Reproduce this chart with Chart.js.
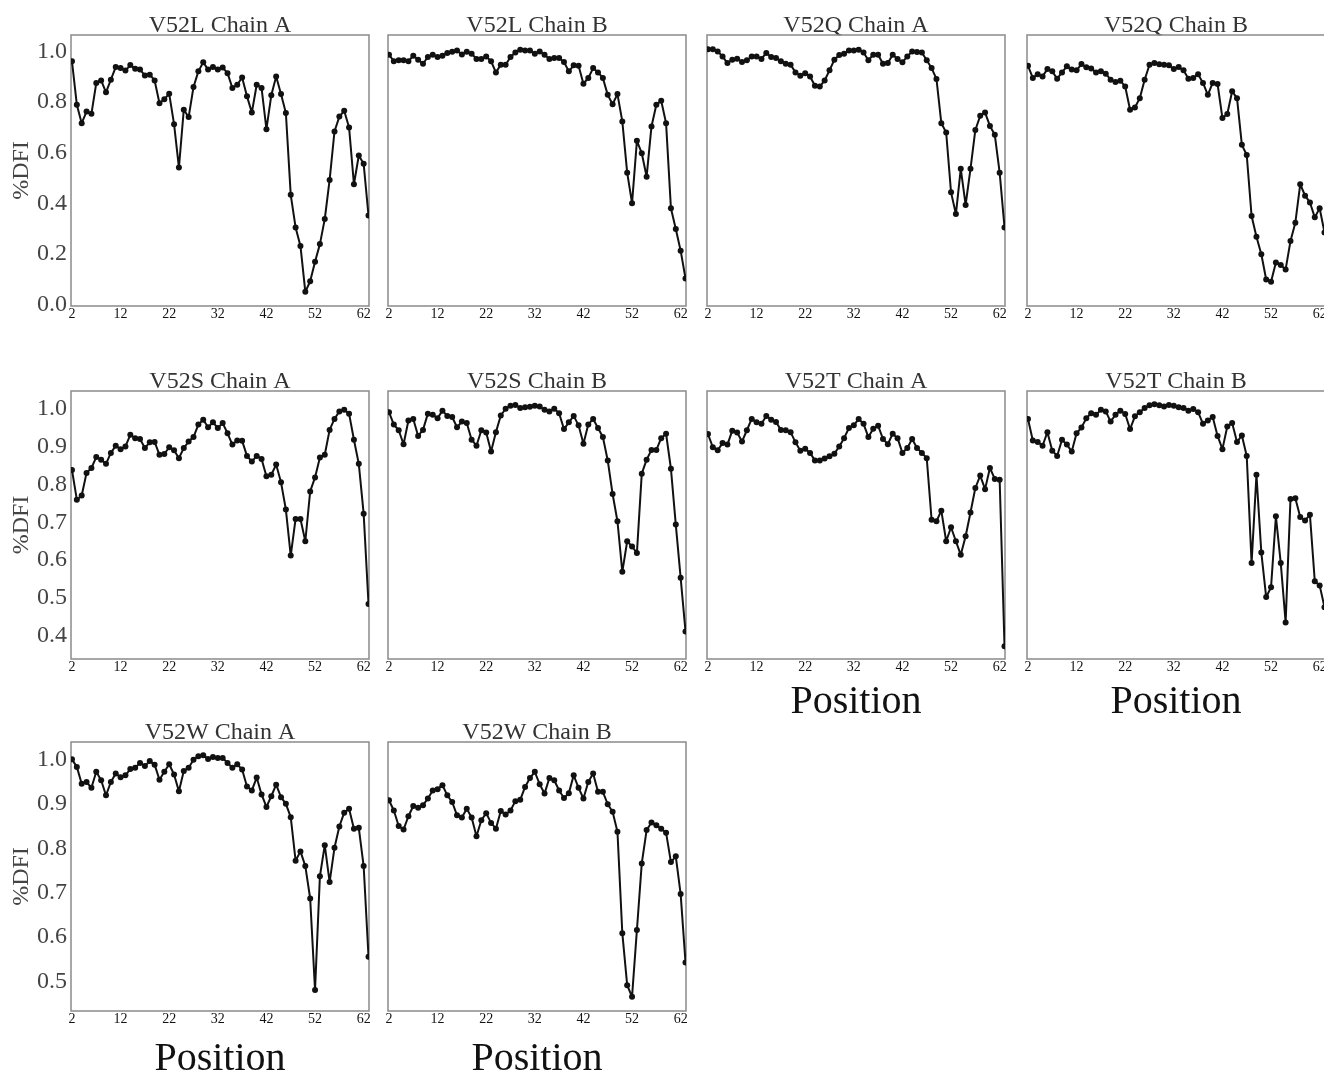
<!DOCTYPE html>
<html>
<head>
<meta charset="utf-8">
<script src="https://cdn.jsdelivr.net/npm/chart.js@4.4.1/dist/chart.umd.min.js"></script>
<style>
  html, body { margin: 0; padding: 0; background: #fff; overflow: hidden; }
  body { width: 1324px; height: 1076px; position: relative; }
  canvas { position: absolute; }
</style>
</head>
<body>
<script>
const positions = [2, 3, 4, 5, 6, 7, 8, 9, 10, 11, 12, 13, 14, 15, 16, 17, 18, 19, 20, 21, 22,
  23, 24, 25, 26, 27, 28, 29, 30, 31, 32, 33, 34, 35, 36, 37, 38, 39, 40, 41, 42,
  43, 44, 45, 46, 47, 48, 49, 50, 51, 52, 53, 54, 55, 56, 57, 58, 59, 60, 61, 62, 63];
const xTicks = [2, 12, 22, 32, 42, 52, 62];
const yTicksTop = [0, 0.2, 0.4, 0.6, 0.8, 1.0];
const yTicksMid = [0.4, 0.5, 0.6, 0.7, 0.8, 0.9, 1.0];
const yTicksBottom = [0.5, 0.6, 0.7, 0.8, 0.9, 1.0];

const v52lA = [0.962, 0.790, 0.717, 0.763, 0.754, 0.876, 0.886, 0.839, 0.889, 0.939, 0.935, 0.925, 0.947, 0.932,
  0.929, 0.906, 0.909, 0.886, 0.796, 0.812, 0.833, 0.713, 0.541, 0.770, 0.741, 0.860, 0.922, 0.958, 0.929, 0.939,
  0.929, 0.937, 0.915, 0.856, 0.869, 0.898, 0.823, 0.759, 0.869, 0.856, 0.693, 0.827, 0.902, 0.832, 0.757, 0.433,
  0.304, 0.231, 0.049, 0.091, 0.168, 0.238, 0.337, 0.492, 0.684, 0.743, 0.766, 0.700, 0.475, 0.589, 0.556, 0.351];
const v52lB = [0.988, 0.962, 0.966, 0.966, 0.962, 0.984, 0.968, 0.952, 0.979, 0.988, 0.979, 0.984, 0.995, 1.000,
  1.005, 0.989, 1.000, 0.992, 0.971, 0.971, 0.981, 0.962, 0.918, 0.948, 0.948, 0.979, 0.997, 1.008, 1.005, 1.005,
  0.992, 1.001, 0.988, 0.971, 0.975, 0.975, 0.959, 0.922, 0.946, 0.944, 0.873, 0.896, 0.935, 0.918, 0.896, 0.829,
  0.792, 0.832, 0.724, 0.521, 0.400, 0.647, 0.598, 0.505, 0.704, 0.790, 0.806, 0.717, 0.380, 0.298, 0.212, 0.102];
const v52qA = [1.010, 1.010, 1.001, 0.981, 0.955, 0.968, 0.972, 0.959, 0.966, 0.981, 0.981, 0.971, 0.995, 0.979,
  0.975, 0.962, 0.952, 0.948, 0.918, 0.905, 0.915, 0.902, 0.865, 0.862, 0.886, 0.926, 0.968, 0.987, 0.992, 1.005,
  1.005, 1.008, 0.997, 0.966, 0.988, 0.988, 0.952, 0.955, 0.988, 0.971, 0.958, 0.981, 1.001, 0.999, 0.997, 0.966,
  0.935, 0.892, 0.717, 0.680, 0.443, 0.357, 0.536, 0.393, 0.536, 0.690, 0.746, 0.759, 0.706, 0.671, 0.521, 0.304];
const v52qB = [0.944, 0.896, 0.911, 0.902, 0.931, 0.922, 0.893, 0.918, 0.942, 0.929, 0.926, 0.951, 0.938, 0.933,
  0.918, 0.922, 0.913, 0.889, 0.880, 0.885, 0.862, 0.770, 0.779, 0.816, 0.889, 0.948, 0.955, 0.950, 0.948, 0.946,
  0.931, 0.939, 0.926, 0.893, 0.896, 0.911, 0.876, 0.829, 0.876, 0.872, 0.737, 0.753, 0.843, 0.816, 0.631, 0.591,
  0.349, 0.267, 0.198, 0.098, 0.089, 0.165, 0.155, 0.138, 0.250, 0.323, 0.475, 0.430, 0.403, 0.344, 0.380, 0.284];
const v52sA = [0.839, 0.760, 0.771, 0.831, 0.844, 0.873, 0.866, 0.855, 0.884, 0.903, 0.894, 0.901, 0.932, 0.923,
  0.921, 0.897, 0.912, 0.913, 0.879, 0.881, 0.899, 0.891, 0.870, 0.897, 0.914, 0.926, 0.959, 0.972, 0.952, 0.965,
  0.950, 0.963, 0.936, 0.906, 0.917, 0.916, 0.876, 0.861, 0.876, 0.868, 0.822, 0.826, 0.853, 0.806, 0.734, 0.612,
  0.709, 0.709, 0.650, 0.782, 0.819, 0.872, 0.879, 0.945, 0.974, 0.994, 0.998, 0.988, 0.919, 0.855, 0.723, 0.484];
const v52sB = [0.992, 0.959, 0.944, 0.907, 0.970, 0.974, 0.929, 0.945, 0.988, 0.985, 0.976, 0.996, 0.982, 0.979,
  0.952, 0.967, 0.963, 0.919, 0.903, 0.944, 0.938, 0.888, 0.939, 0.983, 1.001, 1.009, 1.011, 1.003, 1.005, 1.006,
  1.009, 1.007, 0.998, 0.994, 1.001, 0.989, 0.947, 0.965, 0.982, 0.957, 0.908, 0.959, 0.974, 0.950, 0.926, 0.864,
  0.775, 0.703, 0.569, 0.650, 0.636, 0.619, 0.829, 0.866, 0.892, 0.892, 0.923, 0.935, 0.842, 0.694, 0.553, 0.411];
const v52tA = [0.934, 0.899, 0.891, 0.910, 0.906, 0.943, 0.938, 0.914, 0.944, 0.974, 0.965, 0.961, 0.982, 0.972,
  0.966, 0.945, 0.944, 0.939, 0.912, 0.890, 0.895, 0.884, 0.864, 0.864, 0.869, 0.875, 0.882, 0.901, 0.923, 0.950,
  0.957, 0.974, 0.961, 0.926, 0.948, 0.956, 0.921, 0.907, 0.935, 0.923, 0.884, 0.897, 0.921, 0.897, 0.884, 0.870,
  0.707, 0.703, 0.731, 0.650, 0.687, 0.650, 0.614, 0.663, 0.726, 0.791, 0.824, 0.788, 0.844, 0.815, 0.813, 0.372];
const v52tB = [0.974, 0.917, 0.913, 0.903, 0.939, 0.890, 0.876, 0.919, 0.906, 0.888, 0.936, 0.951, 0.976, 0.989,
  0.985, 0.998, 0.994, 0.967, 0.985, 0.996, 0.987, 0.947, 0.981, 0.992, 1.003, 1.010, 1.013, 1.010, 1.007, 1.011,
  1.009, 1.005, 1.003, 0.996, 1.000, 0.992, 0.961, 0.970, 0.979, 0.929, 0.894, 0.954, 0.963, 0.913, 0.930, 0.876,
  0.592, 0.826, 0.620, 0.502, 0.528, 0.716, 0.592, 0.435, 0.762, 0.764, 0.714, 0.705, 0.720, 0.544, 0.533, 0.475];
const v52wA = [1.000, 0.983, 0.945, 0.949, 0.936, 0.972, 0.953, 0.919, 0.949, 0.968, 0.960, 0.964, 0.978, 0.981,
  0.992, 0.985, 0.996, 0.988, 0.954, 0.972, 0.989, 0.966, 0.928, 0.974, 0.981, 0.999, 1.007, 1.009, 1.001, 1.005,
  1.003, 1.003, 0.992, 0.981, 0.989, 0.977, 0.939, 0.930, 0.959, 0.921, 0.893, 0.917, 0.943, 0.915, 0.900, 0.870,
  0.772, 0.793, 0.760, 0.687, 0.481, 0.737, 0.807, 0.724, 0.801, 0.849, 0.880, 0.889, 0.844, 0.846, 0.760, 0.556];
const v52wB = [0.908, 0.885, 0.850, 0.842, 0.872, 0.895, 0.891, 0.897, 0.912, 0.930, 0.933, 0.942, 0.919, 0.904,
  0.874, 0.869, 0.889, 0.869, 0.827, 0.863, 0.879, 0.857, 0.844, 0.884, 0.876, 0.885, 0.906, 0.909, 0.938, 0.958,
  0.972, 0.944, 0.923, 0.958, 0.953, 0.930, 0.913, 0.924, 0.964, 0.936, 0.912, 0.949, 0.968, 0.927, 0.927, 0.899,
  0.882, 0.837, 0.609, 0.492, 0.466, 0.616, 0.766, 0.841, 0.858, 0.852, 0.844, 0.835, 0.769, 0.782, 0.697, 0.543];

const SERIF = '"Liberation Serif", "DejaVu Serif", "Times New Roman", serif';

// panel frames on the page
const colLeft = [71, 388, 707, 1027];
const rowTop = [35, 391, 742];
const rowBottom = [306, 659, 1011];
const frameW = 298;
const rows = [
  { min: -0.007, max: 1.066, ticks: yTicksTop },
  { min: 0.338, max: 1.048, ticks: yTicksMid },
  { min: 0.434, max: 1.039, ticks: yTicksBottom }
];
const xTitleBox = [22, 63, 68];

const panels = [
  { title: 'V52L Chain A', data: v52lA, row: 0, col: 0 },
  { title: 'V52L Chain B', data: v52lB, row: 0, col: 1 },
  { title: 'V52Q Chain A', data: v52qA, row: 0, col: 2 },
  { title: 'V52Q Chain B', data: v52qB, row: 0, col: 3 },
  { title: 'V52S Chain A', data: v52sA, row: 1, col: 0 },
  { title: 'V52S Chain B', data: v52sB, row: 1, col: 1 },
  { title: 'V52T Chain A', data: v52tA, row: 1, col: 2, position: true },
  { title: 'V52T Chain B', data: v52tB, row: 1, col: 3, position: true },
  { title: 'V52W Chain A', data: v52wA, row: 2, col: 0, position: true },
  { title: 'V52W Chain B', data: v52wB, row: 2, col: 1, position: true }
];

const framePlugin = {
  id: 'frame',
  beforeDatasetsDraw(chart) {
    const { ctx, chartArea: a } = chart;
    ctx.save();
    ctx.strokeStyle = '#8a8a8a';
    ctx.lineWidth = 1.5;
    ctx.strokeRect(a.left, a.top, a.right - a.left, a.bottom - a.top);
    ctx.restore();
  }
};

function makePanel(p) {
  const row = rows[p.row];
  const first = p.col === 0;
  const axisW = first ? 71 : 0;
  const padL = first ? 0 : 10;
  const padR = 10;
  const xH = p.position ? xTitleBox[p.row] : 22;

  const canvas = document.createElement('canvas');
  const w = axisW + padL + frameW + padR;
  const h = 35 + (rowBottom[p.row] - rowTop[p.row]) + xH;
  canvas.width = w;
  canvas.height = h;
  canvas.style.left = (colLeft[p.col] - axisW - padL) + 'px';
  canvas.style.top = (rowTop[p.row] - 35) + 'px';
  canvas.style.width = w + 'px';
  canvas.style.height = h + 'px';
  document.body.appendChild(canvas);

  return new Chart(canvas.getContext('2d'), {
    type: 'line',
    data: {
      datasets: [{
        data: p.data.map((v, i) => ({ x: positions[i], y: v })),
        borderColor: '#111',
        backgroundColor: '#111',
        pointBackgroundColor: '#111',
        borderWidth: 2,
        borderJoinStyle: 'round',
        borderCapStyle: 'round',
        pointRadius: 3,
        pointBorderWidth: 0,
        tension: 0,
        fill: false
      }]
    },
    options: {
      responsive: false,
      animation: false,
      events: [],
      layout: { padding: { left: padL, right: padR, top: 0, bottom: 0 } },
      plugins: {
        legend: { display: false },
        tooltip: { enabled: false },
        title: {
          display: true,
          fullSize: false,
          text: p.title,
          color: '#333',
          font: { family: SERIF, size: 24, weight: 'normal', lineHeight: 0.8 },
          padding: { top: 15.8, bottom: 0 }
        }
      },
      scales: {
        x: {
          type: 'linear',
          min: 1.8,
          max: 63.1,
          grid: { display: false, drawTicks: false },
          border: { display: false },
          afterBuildTicks: (axis) => { axis.ticks = xTicks.map(v => ({ value: v })); },
          afterFit: (axis) => { axis.height = xH; },
          ticks: {
            color: '#111',
            font: { family: SERIF, size: 14 },
            padding: 0,
            maxRotation: 0,
            autoSkip: false
          },
          title: {
            display: !!p.position,
            text: 'Position',
            color: '#111',
            font: { family: SERIF, size: 40, lineHeight: 1 },
            padding: { top: 0, bottom: 0 }
          }
        },
        y: {
          display: first,
          min: row.min,
          max: row.max,
          grid: { display: false, drawTicks: false },
          border: { display: false },
          afterBuildTicks: (axis) => { axis.ticks = row.ticks.map(v => ({ value: v })); },
          afterFit: (axis) => { if (first) axis.width = axisW; },
          ticks: {
            color: '#444',
            font: { family: SERIF, size: 24 },
            padding: 4,
            callback: (v) => Number(v).toFixed(1)
          },
          title: {
            display: true,
            text: '%DFI',
            color: '#444',
            font: { family: SERIF, size: 24, lineHeight: 1.2 },
            padding: { top: 7, bottom: 0 }
          }
        }
      }
    },
    plugins: [framePlugin]
  });
}

panels.forEach(makePanel);
</script>
</body>
</html>
